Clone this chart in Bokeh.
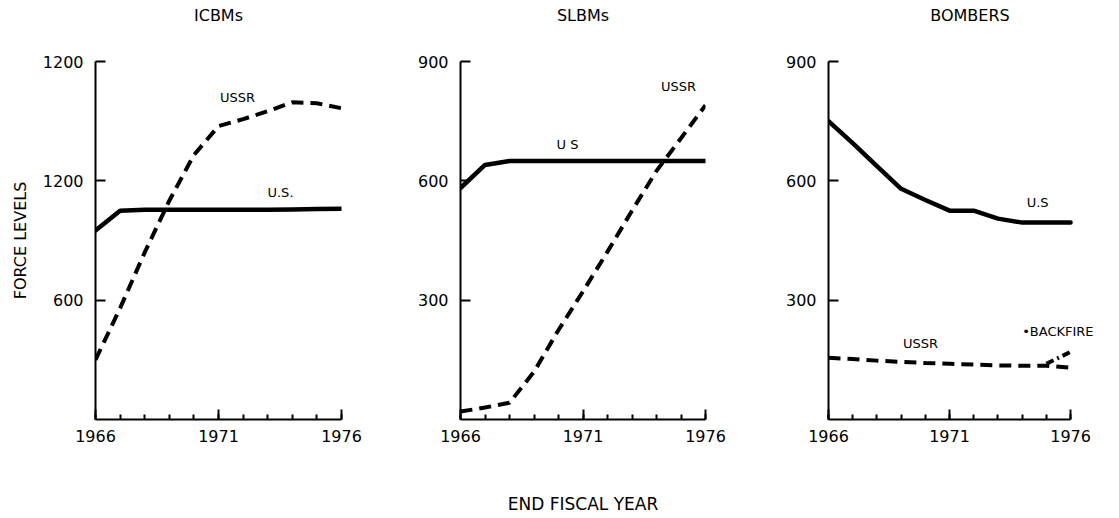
from bokeh.plotting import figure
from bokeh.layouts import row
from bokeh.models import FixedTicker, Label, Range1d, Title
from bokeh.embed import file_html
from bokeh.resources import INLINE

years = [1966, 1967, 1968, 1969, 1970, 1971, 1972, 1973, 1974, 1975, 1976]
icbm_us = [950, 1050, 1054, 1054, 1054, 1054, 1054, 1054, 1056, 1058, 1060]
icbm_ussr = [300, 560, 840, 1100, 1330, 1475, 1510, 1550, 1595, 1590, 1565]
slbm_us = [582, 640, 650, 650, 650, 650, 650, 650, 650, 650, 650]
slbm_ussr = [20, 30, 42, 120, 225, 322, 422, 525, 625, 707, 790]
bomber_us = [750, 695, 637, 580, 552, 525, 525, 505, 495, 495, 495]
bomber_ussr = [155, 152, 148, 145, 142, 140, 138, 136, 135, 135, 130]
backfire_years = [1975, 1976]
backfire = [140, 170]

xticks = [1966, 1971, 1976]
icbm_yticks = [600, 1200, 1800]
icbm_ylabels = {600: "600", 1200: "1200", 1800: "1200"}
slbm_yticks = [300, 600, 900]
bomber_yticks = [300, 600, 900]

FONT = "DejaVu Sans"
H = 516
TOP = 61
FRAME_H = 359


def panel(width, left, right, x_end, y_end, yticks, title, title_offset=0, overrides=None):
    p = figure(width=width, height=H, x_range=Range1d(1966, x_end), y_range=Range1d(0, y_end),
               output_backend="svg", toolbar_location=None,
               min_border_left=left, min_border_right=right,
               min_border_top=TOP, min_border_bottom=H - TOP - FRAME_H,
               outline_line_color=None, background_fill_color="white",
               border_fill_color="white")
    p.grid.visible = False
    # real title (outermost)
    p.title.text = title
    p.title.align = "center"
    p.title.offset = title_offset
    p.title.standoff = 0
    p.title.text_font = FONT
    p.title.text_font_size = "16px"
    p.title.text_font_style = "normal"
    p.title.text_color = "black"
    # spacer next to the frame, pushes the real title upward
    p.add_layout(Title(text=" ", standoff=16, text_font=FONT, text_font_size="16px"), "above")
    for ax in (p.xaxis[0], p.yaxis[0]):
        ax.axis_line_color = "black"
        ax.axis_line_width = 2
        ax.major_tick_line_color = "black"
        ax.major_tick_line_width = 2
        ax.major_tick_in = 10
        ax.major_tick_out = 0
        ax.major_label_text_font = FONT
        ax.major_label_text_font_size = "16px"
        ax.major_label_text_color = "black"
        ax.axis_label_text_font = FONT
        ax.axis_label_text_font_style = "normal"
        ax.axis_label_text_color = "black"
    p.xaxis.ticker = FixedTicker(ticks=xticks, minor_ticks=years)
    p.xaxis.bounds = (1966, 1976)
    p.xaxis.minor_tick_in = 5
    p.xaxis.minor_tick_out = 0
    p.xaxis.minor_tick_line_color = "black"
    p.xaxis.minor_tick_line_width = 2
    p.xaxis.major_label_standoff = 10
    p.yaxis.ticker = FixedTicker(ticks=yticks)
    p.yaxis.minor_tick_line_color = None
    p.yaxis.major_label_standoff = 12
    if overrides:
        p.yaxis.major_label_overrides = overrides
    return p


def lbl(p, x, y, text, size="13px", align="center"):
    p.add_layout(Label(x=x, y=y, text=text, text_align=align, text_baseline="middle",
                       text_font=FONT, text_font_size=size, text_color="black"))


solid = dict(line_color="black", line_width=4.5, line_join="round", line_cap="round")
dashed = dict(line_color="black", line_width=4, line_dash="12 7")

# ICBMs
p1 = panel(378, 95, 37, 1976, 1800, icbm_yticks, "ICBMs", 2, icbm_ylabels)
p1.line(years, icbm_us, **solid)
p1.line(years, icbm_ussr, **dashed)
lbl(p1, 1971.77, 1620, "USSR", "13px")
lbl(p1, 1973.52, 1143, "U.S.", "13px")
p1.yaxis.axis_label = "FORCE LEVELS"
p1.yaxis.axis_label_text_font_size = "16px"
p1.yaxis.axis_label_standoff = 10

# SLBMs
p2 = panel(370, 82, 43, 1976, 900, slbm_yticks, "SLBMs", 5)
p2.line(years, slbm_us, **solid)
p2.line(years, slbm_ussr, **dashed)
lbl(p2, 1970.37, 692, "U S", "13px")
lbl(p2, 1974.9, 837, "USSR", "13px")
p2.xaxis.axis_label = "END FISCAL YEAR"
p2.xaxis.axis_label_text_font_size = "17px"
p2.xaxis.axis_label_standoff = 49

# BOMBERS
p3 = panel(363, 80, 0, 1977.69, 900, bomber_yticks, "BOMBERS", -11)
p3.line(years, bomber_us, **solid)
p3.line(years, bomber_ussr, **dashed)
p3.line(backfire_years, backfire, line_color="black", line_width=4, line_dash="8 4 2 4")
lbl(p3, 1974.64, 545, "U.S", "13px")
lbl(p3, 1969.8, 190, "USSR", "13px")
lbl(p3, 1974.0, 220, "\u2022BACKFIRE", "13px", align="left")

layout = row(p1, p2, p3)
open("out.html", "w").write(file_html(layout, INLINE))
